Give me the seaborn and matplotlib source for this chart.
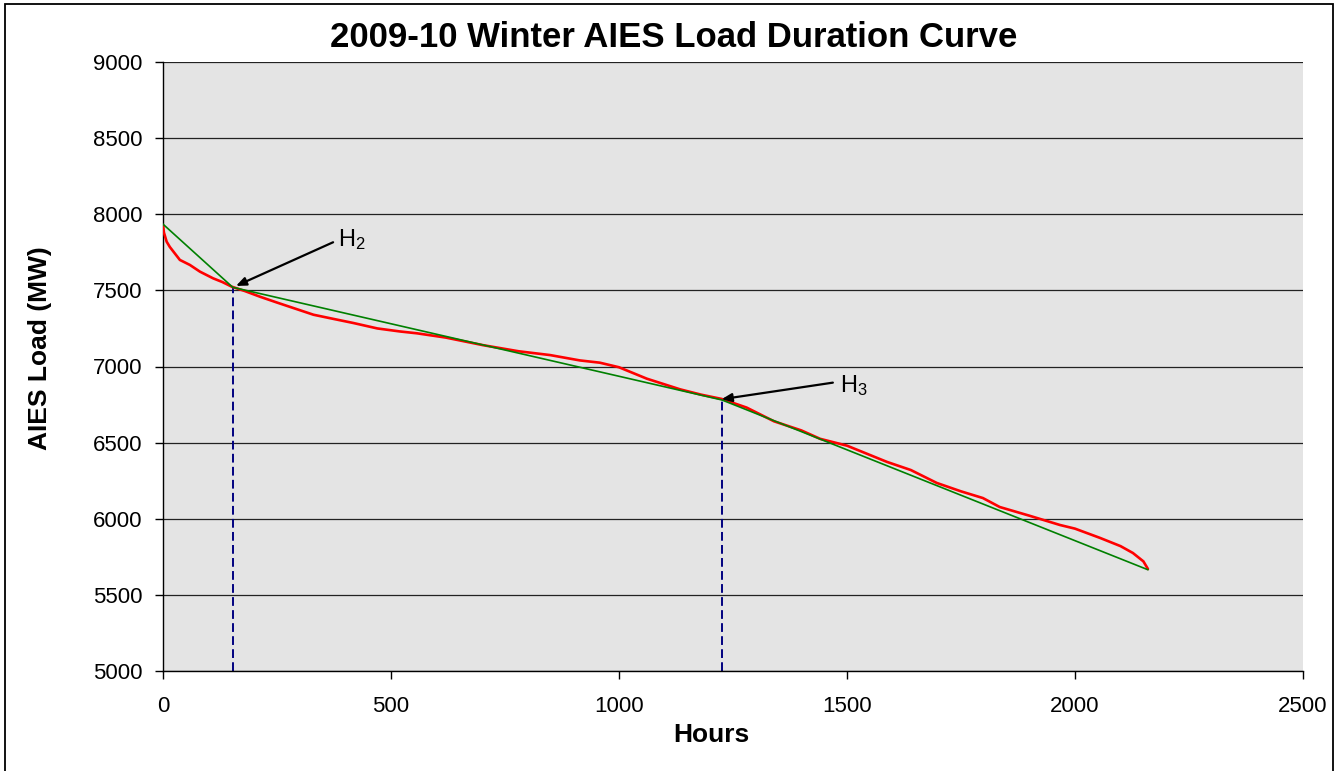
import matplotlib
matplotlib.use("Agg")
import matplotlib.pyplot as plt
from matplotlib.patches import Rectangle
import seaborn as sns
import pandas as pd

# Load duration curve
hours = [0, 2, 8, 15, 23, 37, 59, 81, 110, 130, 151, 180, 213, 250, 286, 330,
         370, 417, 470, 520, 557, 620, 702, 780, 849, 914, 958, 1000, 1061,
         1134, 1180, 1225, 1280, 1340, 1400, 1441, 1500, 1588, 1640, 1697,
         1750, 1798, 1835, 1900, 1967, 2000, 2055, 2100, 2127, 2150, 2158, 2160]
load_mw = [7929, 7880, 7820, 7785, 7754, 7700, 7667, 7623, 7579, 7555, 7524,
           7495, 7458, 7420, 7384, 7340, 7315, 7286, 7250, 7230, 7218, 7190,
           7140, 7100, 7075, 7040, 7025, 6995, 6920, 6850, 6815, 6787, 6730,
           6640, 6580, 6525, 6480, 6373, 6320, 6235, 6180, 6136, 6077, 6020,
           5959, 5935, 5874, 5820, 5775, 5720, 5680, 5670]

# Piecewise linear fit through the break points
fit_hours = [0, 153, 1226, 2160]
fit_load = [7935, 7520, 6780, 5665]

# Break points H2, H3
break_labels = [r"$\mathregular{H_2}$", r"$\mathregular{H_3}$"]
break_hours = [153, 1226]
break_load = [7520, 6780]
label_pos = [(384, 7791), (1485, 6830)]
arrow_tail = [(373, 7816), (1469, 6894)]
arrow_head = [(160, 7529), (1225, 6785)]

curve = pd.DataFrame({"Hours": hours, "Load": load_mw})
fit = pd.DataFrame({"Hours": fit_hours, "Load": fit_load})

sns.set_style("white")
plt.rcParams["font.family"] = ["Liberation Sans", "DejaVu Sans"]
plt.rcParams["mathtext.fontset"] = "custom"
plt.rcParams["mathtext.rm"] = "Liberation Sans"
plt.rcParams["text.color"] = "black"
plt.rcParams["xtick.color"] = "black"
plt.rcParams["ytick.color"] = "black"

fig = plt.figure(figsize=(13.4, 7.71), dpi=100)
ax = fig.add_axes([163 / 1340, 1 - 671 / 771, 1140 / 1340, 609 / 771])
ax.set_facecolor("#e4e4e4")

ax.vlines(break_hours, 5000, break_load, colors="#000080",
          linestyles=(0, (4.5, 2.2)), lw=1.4, zorder=2)
sns.lineplot(data=curve, x="Hours", y="Load", color="#ff0000", lw=1.9,
             ax=ax, zorder=3)
sns.lineplot(data=fit, x="Hours", y="Load", color="#008000", lw=1.2,
             ax=ax, zorder=4)

for lab, pos, tail, head in zip(break_labels, label_pos, arrow_tail, arrow_head):
    ax.annotate("", xy=head, xytext=tail,
                arrowprops=dict(arrowstyle="-|>,head_length=0.6,head_width=0.25",
                                color="black", lw=1.6, shrinkA=0, shrinkB=0),
                zorder=5)
    ax.text(pos[0], pos[1], lab, fontsize=17, color="black",
            ha="left", va="baseline")

ax.set_xlim(0, 2500)
ax.set_ylim(5000, 9000)
ax.set_xticks(range(0, 2501, 500))
ax.set_yticks(range(5000, 9001, 500))
ax.yaxis.grid(True, color="#222222", lw=0.9)
ax.set_axisbelow(True)
ax.set_xlabel("")
ax.set_ylabel("")
ax.tick_params(axis="both", direction="out", length=6, width=1, color="black",
               labelcolor="black", labelsize=16, bottom=True, left=True)
ax.tick_params(axis="x", pad=12)
ax.tick_params(axis="y", pad=9)
for side in ["left", "bottom"]:
    ax.spines[side].set_color("black")
    ax.spines[side].set_linewidth(1)
ax.spines["top"].set_visible(False)
ax.spines["right"].set_visible(False)

fig.text(674 / 1340, 1 - 46.7 / 771, "2009-10 Winter AIES Load Duration Curve",
         fontsize=25, fontweight="bold", color="black",
         ha="center", va="baseline")
fig.text(711 / 1340, 1 - 742 / 771, "Hours", fontsize=19, fontweight="bold",
         color="black", ha="center", va="baseline")
fig.text(40 / 1340, 1 - 348 / 771, "AIES Load (MW)", fontsize=19,
         fontweight="bold", color="black", rotation=90,
         ha="center", va="center")

fig.patches.append(Rectangle((5 / 1340, -0.02), 1328 / 1340, 1.02 - 4 / 771,
                             transform=fig.transFigure, fill=False,
                             edgecolor="black", lw=1.3))

fig.savefig("out.png", dpi=100)
